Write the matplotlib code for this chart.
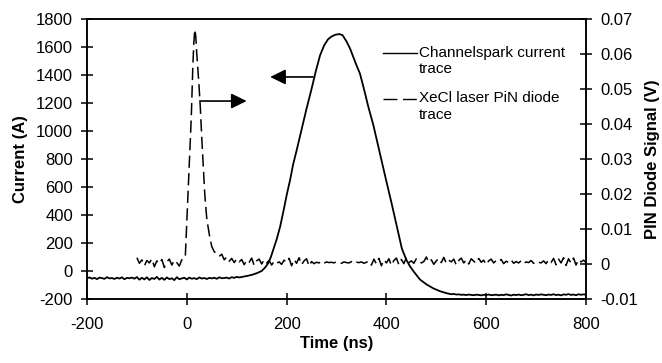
import numpy as np
import matplotlib
matplotlib.use("Agg")
import matplotlib.pyplot as plt
from matplotlib.lines import Line2D
from matplotlib.legend_handler import HandlerLine2D

plt.rcParams['font.family'] = ['Liberation Sans', 'DejaVu Sans']
plt.rcParams['axes.unicode_minus'] = False

# ---------------- data ----------------
# Channelspark current trace (A)
cur_base_t = list(range(-200, 110, 5))
cur_base_a = [-52, -46, -55, -49, -58, -47, -51, -56, -44, -53,
              -50, -57, -48, -54, -45, -59, -49, -52, -47, -55,
              -43, -62, -48, -60, -45, -64, -50, -57, -42, -61,
              -49, -63, -46, -58, -52, -65, -44, -59, -53, -48,
              -60, -47, -55, -51, -58, -46, -54, -50, -57, -49,
              -53, -48, -56, -45, -52, -50, -47, -54, -44, -49,
              -42, -46]
cur_pulse_t = [113, 120, 130, 140, 150, 157, 163, 168, 173, 180, 187, 195, 200,
               207, 213, 220, 230, 240, 250, 258, 267, 275, 283, 290, 298, 306,
               312, 320, 327, 334, 340, 347, 355, 364, 374, 387, 400, 410, 421,
               431, 440, 447, 455, 467, 480, 494, 508, 521]
cur_pulse_a = [-41, -36, -28, -16, 0, 25, 55, 95, 150, 225, 316, 450, 540,
               650, 760, 860, 1010, 1160, 1300, 1420, 1540, 1610, 1655, 1675, 1688, 1692,
               1685, 1640, 1590, 1525, 1470, 1410, 1300, 1170, 1040, 840, 640, 490, 316,
               160, 80, 35, -5, -60, -95, -124, -145, -159]
cur_tail_t = list(range(525, 805, 5))
cur_tail_a = [-162, -166, -164, -168, -167, -170, -169, -172, -168, -171,
              -173, -169, -171, -174, -170, -172, -168, -173, -171, -169,
              -174, -170, -172, -167, -171, -175, -169, -172, -168, -173,
              -170, -166, -172, -169, -174, -168, -171, -167, -170, -173,
              -168, -171, -166, -172, -169, -174, -167, -170, -165, -171,
              -168, -173, -166, -170, -167, -169]

# XeCl laser PiN diode trace (mV)
pin_pre_t = list(range(-100, 0, 5))
pin_pre_mv = [1.8, 0.2, 1.2, -0.5, 1.0, 0.3, 1.5, -0.8, 0.9, 0.1,
              1.3, -1.0, 0.6, 1.4, -0.3, 1.1, 0.4, -0.6, 1.2, 1.6]
pin_pulse_t = [-3, 0, 3, 6, 9, 12, 14, 16, 18, 20, 24, 27, 30, 33, 36, 40, 45, 50, 55]
pin_pulse_mv = [2.0, 12.0, 22.0, 32.0, 42.0, 56.0, 63.0, 67.0, 65.0, 60.0, 52.0,
                45.0, 36.0, 28.0, 20.0, 13.0, 8.5, 5.0, 3.5]
pin_post_t = list(range(60, 805, 5))
pin_post_mv = [3.0, 2.2, 2.8, 1.2, 2.0, 0.8, 1.6, 0.4, 1.5, 0.6,
               1.3, -0.2, 1.1, 0.5, 1.7, -0.4, 0.9, 1.4, 0.0, 1.2,
               0.3, 1.0, -0.3, 0.8, 0.2, 0.6, -0.1, 1.1, 0.4, 1.6,
               -0.5, 1.3, 0.2, 1.8, -0.2, 0.9, 1.5, -0.6, 0.7, 0.1,
               0.5, 0.3, 0.8, 0.2, 0.6, 0.4, 0.5, 0.3, 0.7, 0.4,
               0.2, 0.6, 0.4, 0.3, 0.7, 0.1, 0.5, 0.4, 0.6, 0.2,
               0.5, 0.9, -0.3, 1.4, 0.0, 1.6, -0.5, 1.2, 0.3, 1.5,
               -0.4, 1.0, 1.7, -0.2, 1.3, 0.1, 1.8, 0.4, 0.9, 0.2,
               1.5, 1.1, 0.3, 0.7, 2.0, 0.5, 1.2, -0.1, 0.9, 1.6,
               0.4, 1.9, 0.2, 1.1, 0.6, 1.4, -0.3, 1.0, 1.7, 0.3,
               1.2, 0.0, 1.5, 0.8, 0.2, 1.6, 0.5, 1.1, -0.2, 0.9,
               1.4, 0.3, 1.0, 0.6, 1.3, 0.1, 0.8, 0.4, 1.2, 0.2,
               0.7, 0.3, 0.9, 0.1, 0.6, 0.4, 1.0, 0.2, 0.8, 0.5,
               0.3, 0.9, 0.1, 1.2, 0.4, 1.6, -0.2, 1.4, 0.3, 1.8,
               -0.4, 1.5, 0.2, 1.7, -0.3, 1.3, 0.6, 1.1, 0.4]

x_ticks = [-200, 0, 200, 400, 600, 800]
x_ticklabels = ['-200', '0', '200', '400', '600', '800']
left_ticks = [-200, 0, 200, 400, 600, 800, 1000, 1200, 1400, 1600, 1800]
left_ticklabels = [str(v) for v in left_ticks]
right_ticks = [-0.01, 0.0, 0.01, 0.02, 0.03, 0.04, 0.05, 0.06, 0.07]
right_ticklabels = ['-0.01', '0', '0.01', '0.02', '0.03', '0.04', '0.05', '0.06', '0.07']
legend_labels = ['Channelspark current\ntrace', 'XeCl laser PiN diode\ntrace']

cur_t = np.array(cur_base_t + cur_pulse_t + cur_tail_t, dtype=float)
cur_a = np.array(cur_base_a + cur_pulse_a + cur_tail_a, dtype=float)
pin_t = np.array(pin_pre_t + pin_pulse_t + pin_post_t, dtype=float)
pin_v = np.array(pin_pre_mv + pin_pulse_mv + pin_post_mv, dtype=float) / 1000.0

# ---------------- figure ----------------
fig = plt.figure(figsize=(6.62, 3.63), dpi=100)
ax = fig.add_axes([87/662, 1 - 299/363, (586-87)/662, (299-19)/363])
ax2 = ax.twinx()

DASH = (0, (8, 3.5))
ax.plot(cur_t, cur_a, color='black', lw=1.3)
ax2.plot(pin_t, pin_v, color='black', lw=1.1, linestyle=DASH)

ax.set_xlim(-200, 800)
ax.set_ylim(-200, 1800)
ax2.set_ylim(-0.01, 0.07)

ax.set_xticks(x_ticks)
ax.set_xticklabels(x_ticklabels)
ax.set_yticks(left_ticks)
ax.set_yticklabels(left_ticklabels)
ax2.set_yticks(right_ticks)
ax2.set_yticklabels(right_ticklabels)

for a in (ax, ax2):
    for s in a.spines.values():
        s.set_linewidth(1.1)
    a.tick_params(direction='inout', length=8, width=1.1, labelsize=12, pad=6)
ax.tick_params(axis='x', pad=9)

ax.set_xlabel('Time (ns)', fontsize=12, fontweight='bold', labelpad=3)
ax.set_ylabel('Current (A)', fontsize=12, fontweight='bold', labelpad=6)
ax2.set_ylabel('PIN Diode Signal (V)', fontsize=12, fontweight='bold', labelpad=5)

# arrows indicating axes
arrow_style = dict(arrowstyle='-|>,head_length=0.47,head_width=0.23',
                   mutation_scale=20, lw=1.2, color='black', shrinkA=0, shrinkB=0)
ax.annotate('', xy=(167, 1386), xytext=(253, 1386), arrowprops=arrow_style)
ax.annotate('', xy=(120, 1214), xytext=(26, 1214), arrowprops=arrow_style)


class FirstLineHandler(HandlerLine2D):
    """Place the legend line at the level of the first label line."""
    def __init__(self, shift, **kw):
        super().__init__(**kw)
        self._shift = shift

    def create_artists(self, legend, orig_handle, xdescent, ydescent,
                       width, height, fontsize, trans):
        arts = super().create_artists(legend, orig_handle, xdescent, ydescent,
                                      width, height, fontsize, trans)
        for art in arts:
            art.set_ydata(np.asarray(art.get_ydata(), dtype=float) + self._shift)
        return arts


handles = [Line2D([], [], color='black', lw=1.0),
           Line2D([], [], color='black', lw=1.0, linestyle=(0, (10, 4)))]
ax2.legend(handles, legend_labels, loc='upper left', frameon=False, fontsize=11,
           bbox_to_anchor=(383/662, 1 - 46/363), bbox_transform=fig.transFigure,
           handlelength=2.2, handletextpad=0.15, labelspacing=1.0,
           borderpad=0, borderaxespad=0,
           handler_map={h: FirstLineHandler(5.8) for h in handles})

fig.savefig('out.png', dpi=100)
